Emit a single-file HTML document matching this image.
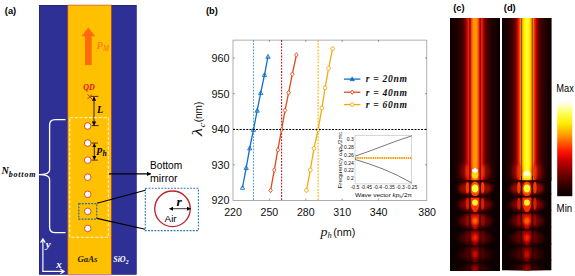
<!DOCTYPE html><html><head><meta charset="utf-8"><title>fig</title>
<style>html,body{margin:0;padding:0;background:#fff;}svg{display:block;}text{font-family:"Liberation Sans",sans-serif;}.se{font-family:"Liberation Serif",serif;}</style></head><body>
<svg width="575" height="276" viewBox="0 0 575 276">
<defs>
<marker id="ah" viewBox="0 0 10 10" refX="9" refY="5" markerWidth="5" markerHeight="5" orient="auto-start-reverse"><path d="M0,0 L10,5 L0,10 z" fill="#000"/></marker>
<marker id="ah2" viewBox="0 0 10 10" refX="9" refY="5" markerWidth="3.6" markerHeight="3.6" orient="auto-start-reverse"><path d="M0,0 L10,5 L0,10 z" fill="#000"/></marker>
<marker id="ahw" viewBox="0 0 10 10" refX="9" refY="5" markerWidth="5" markerHeight="5" orient="auto-start-reverse"><path d="M0,0 L10,5 L0,10 z" fill="#fff"/></marker>
<linearGradient id="gc" x1="0" x2="1" y1="0" y2="0">
<stop offset="0.0000" stop-color="#0c0000"/>
<stop offset="0.1200" stop-color="#1a0000"/>
<stop offset="0.2000" stop-color="#2c0000"/>
<stop offset="0.2600" stop-color="#480000"/>
<stop offset="0.3000" stop-color="#700000"/>
<stop offset="0.3300" stop-color="#a80800"/>
<stop offset="0.3500" stop-color="#d81000"/>
<stop offset="0.3680" stop-color="#f81808"/>
<stop offset="0.3880" stop-color="#f01808"/>
<stop offset="0.4120" stop-color="#f02810"/>
<stop offset="0.4360" stop-color="#ff4810"/>
<stop offset="0.4520" stop-color="#ff7008"/>
<stop offset="0.4680" stop-color="#ff9000"/>
<stop offset="0.5000" stop-color="#ff9c00"/>
<stop offset="0.5320" stop-color="#ff9000"/>
<stop offset="0.5480" stop-color="#ff7008"/>
<stop offset="0.5640" stop-color="#ff4810"/>
<stop offset="0.5880" stop-color="#f02810"/>
<stop offset="0.6120" stop-color="#f01808"/>
<stop offset="0.6320" stop-color="#f81808"/>
<stop offset="0.6500" stop-color="#d81000"/>
<stop offset="0.6700" stop-color="#a80800"/>
<stop offset="0.7000" stop-color="#700000"/>
<stop offset="0.7400" stop-color="#480000"/>
<stop offset="0.8000" stop-color="#2c0000"/>
<stop offset="0.8800" stop-color="#1a0000"/>
<stop offset="1.0000" stop-color="#0c0000"/>
</linearGradient>
<linearGradient id="gd" x1="0" x2="1" y1="0" y2="0">
<stop offset="-0.0040" stop-color="#0c0000"/>
<stop offset="0.0968" stop-color="#1c0000"/>
<stop offset="0.1774" stop-color="#300000"/>
<stop offset="0.2379" stop-color="#500000"/>
<stop offset="0.2782" stop-color="#780000"/>
<stop offset="0.3085" stop-color="#b00800"/>
<stop offset="0.3286" stop-color="#e01800"/>
<stop offset="0.3468" stop-color="#f83000"/>
<stop offset="0.3629" stop-color="#ff6000"/>
<stop offset="0.3770" stop-color="#ff9000"/>
<stop offset="0.4012" stop-color="#f09000"/>
<stop offset="0.4194" stop-color="#ffb800"/>
<stop offset="0.4355" stop-color="#ffe000"/>
<stop offset="0.4516" stop-color="#fff800"/>
<stop offset="0.5000" stop-color="#ffff38"/>
<stop offset="0.5484" stop-color="#fff800"/>
<stop offset="0.5645" stop-color="#ffe000"/>
<stop offset="0.5806" stop-color="#ffb800"/>
<stop offset="0.5988" stop-color="#f09000"/>
<stop offset="0.6230" stop-color="#ff9000"/>
<stop offset="0.6371" stop-color="#ff6000"/>
<stop offset="0.6532" stop-color="#f83000"/>
<stop offset="0.6714" stop-color="#e01800"/>
<stop offset="0.6915" stop-color="#b00800"/>
<stop offset="0.7218" stop-color="#780000"/>
<stop offset="0.7621" stop-color="#500000"/>
<stop offset="0.8226" stop-color="#300000"/>
<stop offset="0.9032" stop-color="#1c0000"/>
<stop offset="1.0040" stop-color="#0c0000"/>
</linearGradient>
<linearGradient id="fade" x1="0" x2="0" y1="0" y2="1">
<stop offset="0" stop-color="#0a0000" stop-opacity="0"/>
<stop offset="0.18" stop-color="#0a0000" stop-opacity="0.75"/>
<stop offset="1" stop-color="#0a0000" stop-opacity="0.97"/>
</linearGradient>
<linearGradient id="cbar" x1="0" x2="0" y1="0" y2="1">
<stop offset="0" stop-color="#ffffff"/>
<stop offset="0.06" stop-color="#ffffc8"/>
<stop offset="0.13" stop-color="#ffff60"/>
<stop offset="0.24" stop-color="#ffee00"/>
<stop offset="0.38" stop-color="#ff9000"/>
<stop offset="0.53" stop-color="#ff1800"/>
<stop offset="0.62" stop-color="#d00000"/>
<stop offset="0.74" stop-color="#800000"/>
<stop offset="0.86" stop-color="#400000"/>
<stop offset="0.95" stop-color="#180000"/>
<stop offset="1" stop-color="#100000"/>
</linearGradient>
<filter id="b1" x="-50%" y="-50%" width="200%" height="200%"><feGaussianBlur stdDeviation="1"/></filter>
<filter id="b15" x="-50%" y="-50%" width="200%" height="200%"><feGaussianBlur stdDeviation="1.5"/></filter>
<filter id="b05" x="-50%" y="-50%" width="200%" height="200%"><feGaussianBlur stdDeviation="0.6"/></filter>
<filter id="b07" x="-50%" y="-50%" width="200%" height="200%"><feGaussianBlur stdDeviation="0.75"/></filter>
<filter id="b04" x="-50%" y="-50%" width="200%" height="200%"><feGaussianBlur stdDeviation="0.4"/></filter>
<filter id="b2" x="-50%" y="-50%" width="200%" height="200%"><feGaussianBlur stdDeviation="2.2"/></filter>
<clipPath id="clc"><rect x="450" y="18" width="50" height="253"/></clipPath>
<clipPath id="cld"><rect x="502" y="18" width="49.6" height="252.6"/></clipPath>
</defs>
<rect x="0" y="0" width="575" height="276" fill="#fff"/>
<g id="pa">
<text x="4.8" y="14.4" font-size="9.3" font-weight="bold" fill="#000">(a)</text>
<rect x="39" y="5" width="97.5" height="269.5" fill="#2f3095"/>
<rect x="39.25" y="5.25" width="97" height="269" fill="none" stroke="#1c1c5a" stroke-width="0.5"/>
<rect x="67.8" y="5" width="43.5" height="269.5" fill="#ffc000"/>
<rect x="67.9" y="5.1" width="43.4" height="269.2" fill="none" stroke="#c8401a" stroke-width="0.55"/>
<rect x="67.8" y="274.6" width="43.7" height="1.4" fill="#ecc6ee"/>
<rect x="67.8" y="4.1" width="43.7" height="0.8" fill="#ecc6ee" opacity="0.7"/>
<path d="M88.2,27.5 L95.2,36.2 L91.7,36.2 L91.7,65 L85,65 L85,36.2 L81.5,36.2 Z" fill="#ff6a0f"/>
<text x="96.8" y="49.2" font-size="10" font-style="italic" fill="#ff6a0f" class="se">P<tspan font-size="7.2" dy="2">M</tspan></text>
<text x="83.2" y="90.4" font-size="8" font-style="italic" font-weight="bold" fill="#e01010" class="se">QD</text>
<path d="M87.6,94.4 L92,99 M92,94.4 L87.6,99" stroke="#e01010" stroke-width="0.9" fill="none"/>
<line x1="90.8" y1="96.4" x2="98.4" y2="96.4" stroke="#000" stroke-width="0.7"/>
<line x1="92" y1="125.6" x2="98.6" y2="125.6" stroke="#000" stroke-width="0.8"/>
<line x1="94.0" y1="97" x2="94.0" y2="125.2" stroke="#000" stroke-width="0.85" marker-start="url(#ah)" marker-end="url(#ah)"/>
<text x="97" y="113.4" font-size="10" font-style="italic" font-weight="bold" fill="#000" class="se">L</text>
<rect x="69.8" y="117.7" width="38.5" height="119.6" fill="none" stroke="#fff" stroke-width="0.9" stroke-dasharray="3.2,1.6"/>
<circle cx="87.7" cy="126.00" r="3.3" fill="#fff" stroke="#d02818" stroke-width="0.8"/>
<circle cx="87.7" cy="143.07" r="3.3" fill="#fff" stroke="#d02818" stroke-width="0.8"/>
<circle cx="87.7" cy="160.14" r="3.3" fill="#fff" stroke="#d02818" stroke-width="0.8"/>
<circle cx="87.7" cy="177.21" r="3.3" fill="#fff" stroke="#d02818" stroke-width="0.8"/>
<circle cx="87.7" cy="194.28" r="3.3" fill="#fff" stroke="#d02818" stroke-width="0.8"/>
<circle cx="87.7" cy="211.35" r="3.3" fill="#fff" stroke="#d02818" stroke-width="0.8"/>
<circle cx="87.7" cy="228.42" r="3.3" fill="#fff" stroke="#d02818" stroke-width="0.8"/>
<line x1="91.5" y1="143.07" x2="98" y2="143.07" stroke="#000" stroke-width="0.7"/>
<line x1="91.5" y1="160.14" x2="98" y2="160.14" stroke="#000" stroke-width="0.7"/>
<line x1="94.3" y1="143.6" x2="94.3" y2="159.6" stroke="#000" stroke-width="0.85" marker-start="url(#ah)" marker-end="url(#ah)"/>
<text x="97.0" y="153.2" font-size="11" font-style="italic" font-weight="bold" fill="#000" class="se">p<tspan font-size="7.5" dy="2.4">h</tspan></text>
<path d="M65.5,119.6 L55,119.6 Q49.6,119.6 49.6,125 L49.6,170 Q49.6,174.6 38.6,174.6 Q49.6,174.6 49.6,179.2 L49.6,227.2 Q49.6,232.6 55,232.6 L65.5,232.6" fill="none" stroke="#fff" stroke-width="1.3"/>
<text x="1.4" y="173.9" font-size="10.2" font-style="italic" font-weight="bold" fill="#000" class="se">N<tspan font-size="8" dy="2.7" letter-spacing="0.8">bottom</tspan></text>
<rect x="78.8" y="203.7" width="17.9" height="15.4" fill="none" stroke="#2a6a9c" stroke-width="1.2" stroke-dasharray="1.9,1.2"/>
<line x1="96.9" y1="203.3" x2="145.4" y2="190.3" stroke="#000" stroke-width="1.1"/>
<line x1="96.9" y1="218.4" x2="145.2" y2="229.2" stroke="#000" stroke-width="1.1"/>
<line x1="109" y1="173.8" x2="150.8" y2="173.8" stroke="#000" stroke-width="1.3" marker-end="url(#ah2)"/>
<text x="150" y="169" font-size="10.3" fill="#000" textLength="32.2" lengthAdjust="spacingAndGlyphs">Bottom</text>
<text x="150" y="181.7" font-size="10.3" fill="#000" textLength="27.6" lengthAdjust="spacingAndGlyphs">mirror</text>
<rect x="145.3" y="188.2" width="53.1" height="42.4" fill="none" stroke="#2e75b6" stroke-width="1.1" stroke-dasharray="1.9,1.3"/>
<circle cx="172.5" cy="208.8" r="17.8" fill="#fff" stroke="#c0202a" stroke-width="1.3"/>
<line x1="169.5" y1="208.7" x2="190.5" y2="208.7" stroke="#000" stroke-width="0.8" marker-start="url(#ah)" marker-end="url(#ah)"/>
<text x="176.4" y="206.0" font-size="13.5" font-style="italic" font-weight="bold" fill="#000" class="se">r</text>
<text x="164.6" y="222.4" font-size="9.9" fill="#000">Air</text>
<path d="M42.9,271.4 L42.9,239.2 M40.6,242.6 L42.9,238.9 L45.2,242.6" fill="none" stroke="#fff" stroke-width="1.15"/>
<path d="M42.3,271.4 L63.8,271.4 M60.4,269.1 L64.1,271.4 L60.4,273.7" fill="none" stroke="#fff" stroke-width="1.15"/>
<text x="45.8" y="247.6" font-size="11" font-style="italic" font-weight="bold" fill="#fff" class="se">y</text>
<text x="56.2" y="267.8" font-size="11" font-style="italic" font-weight="bold" fill="#fff" class="se">x</text>
<text x="77.4" y="262" font-size="8.8" font-style="italic" font-weight="bold" fill="#2a1a00" class="se">GaAs</text>
<text x="113.2" y="262.2" font-size="8" font-style="italic" font-weight="bold" fill="#fff" class="se">SiO<tspan font-size="5.5" dy="1.8">2</tspan></text>
</g>
<g id="pb">
<text x="206" y="14.1" font-size="9.3" font-weight="bold" fill="#000">(b)</text>
<rect x="233.0" y="40.1" width="193.8" height="160.3" fill="#fff" stroke="#8c8c8c" stroke-width="0.7"/>
<text x="233.00" y="216.3" font-size="10.6" text-anchor="middle" fill="#111">220</text>
<line x1="269.40" y1="200.4" x2="269.40" y2="198.6" stroke="#555" stroke-width="0.6"/>
<line x1="269.40" y1="40.1" x2="269.40" y2="41.9" stroke="#555" stroke-width="0.6"/>
<text x="269.40" y="216.3" font-size="10.6" text-anchor="middle" fill="#111">250</text>
<line x1="305.80" y1="200.4" x2="305.80" y2="198.6" stroke="#555" stroke-width="0.6"/>
<line x1="305.80" y1="40.1" x2="305.80" y2="41.9" stroke="#555" stroke-width="0.6"/>
<text x="305.80" y="216.3" font-size="10.6" text-anchor="middle" fill="#111">280</text>
<line x1="342.20" y1="200.4" x2="342.20" y2="198.6" stroke="#555" stroke-width="0.6"/>
<line x1="342.20" y1="40.1" x2="342.20" y2="41.9" stroke="#555" stroke-width="0.6"/>
<text x="342.20" y="216.3" font-size="10.6" text-anchor="middle" fill="#111">310</text>
<line x1="378.60" y1="200.4" x2="378.60" y2="198.6" stroke="#555" stroke-width="0.6"/>
<line x1="378.60" y1="40.1" x2="378.60" y2="41.9" stroke="#555" stroke-width="0.6"/>
<text x="378.60" y="216.3" font-size="10.6" text-anchor="middle" fill="#111">340</text>
<text x="427.13" y="216.3" font-size="10.6" text-anchor="middle" fill="#111">380</text>
<text x="229.6" y="204.40" font-size="10.8" text-anchor="end" fill="#111">920</text>
<line x1="233.0" y1="164.80" x2="234.8" y2="164.80" stroke="#555" stroke-width="0.6"/>
<line x1="426.8" y1="164.80" x2="425.0" y2="164.80" stroke="#555" stroke-width="0.6"/>
<text x="229.6" y="168.80" font-size="10.8" text-anchor="end" fill="#111">930</text>
<line x1="233.0" y1="129.20" x2="234.8" y2="129.20" stroke="#555" stroke-width="0.6"/>
<line x1="426.8" y1="129.20" x2="425.0" y2="129.20" stroke="#555" stroke-width="0.6"/>
<text x="229.6" y="133.20" font-size="10.8" text-anchor="end" fill="#111">940</text>
<line x1="233.0" y1="93.60" x2="234.8" y2="93.60" stroke="#555" stroke-width="0.6"/>
<line x1="426.8" y1="93.60" x2="425.0" y2="93.60" stroke="#555" stroke-width="0.6"/>
<text x="229.6" y="97.60" font-size="10.8" text-anchor="end" fill="#111">950</text>
<line x1="233.0" y1="58.00" x2="234.8" y2="58.00" stroke="#555" stroke-width="0.6"/>
<line x1="426.8" y1="58.00" x2="425.0" y2="58.00" stroke="#555" stroke-width="0.6"/>
<text x="229.6" y="62.00" font-size="10.8" text-anchor="end" fill="#111">960</text>
<line x1="253.5" y1="40.1" x2="253.5" y2="200.4" stroke="#3a8fe0" stroke-width="0.9" stroke-dasharray="1.8,1.3"/>
<line x1="281.6" y1="40.1" x2="281.6" y2="200.4" stroke="#c8141e" stroke-width="1.1" stroke-dasharray="1.8,1.3"/>
<line x1="318.1" y1="40.1" x2="318.1" y2="200.4" stroke="#f5b400" stroke-width="1.1" stroke-dasharray="1.8,1.3"/>
<polyline points="242.5,187.5 246.2,167.8 249.7,148.1 253.5,129.6 257.2,110.4 260.7,92.8 264.5,74.8 268,56.5" fill="none" stroke="#0f6fc6" stroke-width="1.3"/>
<path d="M242.5,185.4 L244.6,189.285 L240.4,189.285 Z" fill="none" stroke="#0f6fc6" stroke-width="0.9"/>
<path d="M246.2,165.70000000000002 L248.29999999999998,169.585 L244.1,169.585 Z" fill="none" stroke="#0f6fc6" stroke-width="0.9"/>
<path d="M249.7,146.0 L251.79999999999998,149.885 L247.6,149.885 Z" fill="none" stroke="#0f6fc6" stroke-width="0.9"/>
<path d="M253.5,127.5 L255.6,131.385 L251.4,131.385 Z" fill="none" stroke="#0f6fc6" stroke-width="0.9"/>
<path d="M257.2,108.30000000000001 L259.3,112.185 L255.1,112.185 Z" fill="none" stroke="#0f6fc6" stroke-width="0.9"/>
<path d="M260.7,90.7 L262.8,94.585 L258.59999999999997,94.585 Z" fill="none" stroke="#0f6fc6" stroke-width="0.9"/>
<path d="M264.5,72.7 L266.6,76.585 L262.4,76.585 Z" fill="none" stroke="#0f6fc6" stroke-width="0.9"/>
<path d="M268,54.4 L270.1,58.285 L265.9,58.285 Z" fill="none" stroke="#0f6fc6" stroke-width="0.9"/>
<polyline points="270.6,190.4 274.3,170.1 277.8,149.9 281.6,129.6 285,110.4 288.6,92.8 292.3,74.2 296.4,55" fill="none" stroke="#de4a16" stroke-width="1.3"/>
<path d="M270.6,188.06 L272.355,190.4 L270.6,192.74 L268.845,190.4 Z" fill="#fff" stroke="#de4a16" stroke-width="0.9"/>
<path d="M274.3,167.76 L276.055,170.1 L274.3,172.44 L272.545,170.1 Z" fill="#fff" stroke="#de4a16" stroke-width="0.9"/>
<path d="M277.8,147.56 L279.555,149.9 L277.8,152.24 L276.045,149.9 Z" fill="#fff" stroke="#de4a16" stroke-width="0.9"/>
<path d="M281.6,127.25999999999999 L283.355,129.6 L281.6,131.94 L279.845,129.6 Z" fill="#fff" stroke="#de4a16" stroke-width="0.9"/>
<path d="M285,108.06 L286.755,110.4 L285,112.74000000000001 L283.245,110.4 Z" fill="#fff" stroke="#de4a16" stroke-width="0.9"/>
<path d="M288.6,90.46 L290.355,92.8 L288.6,95.14 L286.845,92.8 Z" fill="#fff" stroke="#de4a16" stroke-width="0.9"/>
<path d="M292.3,71.86 L294.055,74.2 L292.3,76.54 L290.545,74.2 Z" fill="#fff" stroke="#de4a16" stroke-width="0.9"/>
<path d="M296.4,52.66 L298.155,55 L296.4,57.34 L294.645,55 Z" fill="#fff" stroke="#de4a16" stroke-width="0.9"/>
<polyline points="306.5,190.4 310.3,169.9 314,148.4 318.1,129.6 321.9,108.1 325.1,87.8 328.6,68.4 332.6,48.7" fill="none" stroke="#f0ac10" stroke-width="1.3"/>
<circle cx="306.5" cy="190.4" r="1.9" fill="#fff" stroke="#f0ac10" stroke-width="0.9"/>
<circle cx="310.3" cy="169.9" r="1.9" fill="#fff" stroke="#f0ac10" stroke-width="0.9"/>
<circle cx="314" cy="148.4" r="1.9" fill="#fff" stroke="#f0ac10" stroke-width="0.9"/>
<circle cx="318.1" cy="129.6" r="1.9" fill="#fff" stroke="#f0ac10" stroke-width="0.9"/>
<circle cx="321.9" cy="108.1" r="1.9" fill="#fff" stroke="#f0ac10" stroke-width="0.9"/>
<circle cx="325.1" cy="87.8" r="1.9" fill="#fff" stroke="#f0ac10" stroke-width="0.9"/>
<circle cx="328.6" cy="68.4" r="1.9" fill="#fff" stroke="#f0ac10" stroke-width="0.9"/>
<circle cx="332.6" cy="48.7" r="1.9" fill="#fff" stroke="#f0ac10" stroke-width="0.9"/>
<line x1="233.0" y1="129.5" x2="426.8" y2="129.5" stroke="#000" stroke-width="1.2" stroke-dasharray="2,1.3"/>
<line x1="344" y1="79.1" x2="360.4" y2="79.1" stroke="#0f6fc6" stroke-width="1.3"/>
<path d="M352.2,76.89999999999999 L354.4,80.69999999999999 L350,80.69999999999999 Z" fill="#0f6fc6" stroke="#0f6fc6" stroke-width="0.7"/>
<text x="365.8" y="82.39999999999999" font-size="9.6" font-style="italic" font-weight="bold" fill="#111" class="se" textLength="41.2" lengthAdjust="spacing">r = 20nm</text>
<line x1="344" y1="92.2" x2="360.4" y2="92.2" stroke="#de4a16" stroke-width="1.3"/>
<path d="M352.2,90.04 L353.82,92.2 L352.2,94.36 L350.58,92.2 Z" fill="#fff" stroke="#de4a16" stroke-width="0.9"/>
<text x="365.8" y="95.5" font-size="9.6" font-style="italic" font-weight="bold" fill="#111" class="se" textLength="41.2" lengthAdjust="spacing">r = 40nm</text>
<line x1="344" y1="104.6" x2="360.4" y2="104.6" stroke="#f0ac10" stroke-width="1.3"/>
<circle cx="352.2" cy="104.6" r="1.8" fill="#fff" stroke="#f0ac10" stroke-width="0.9"/>
<text x="365.8" y="107.89999999999999" font-size="9.6" font-style="italic" font-weight="bold" fill="#111" class="se" textLength="41.2" lengthAdjust="spacing">r = 60nm</text>
<g fill="#111"><text x="320.6" y="235.5" class="se" font-style="italic" font-size="13" textLength="7.0" lengthAdjust="spacingAndGlyphs">p</text><text x="327.5" y="237.6" class="se" font-style="italic" font-size="8.5">h</text><text x="333.2" y="236.0" font-size="10.6" textLength="22.2" lengthAdjust="spacingAndGlyphs">(nm)</text></g>
<g transform="translate(202.3,135.9) rotate(-90)" fill="#111"><text x="0" y="0" class="se" font-style="italic" font-size="14.5" textLength="8" lengthAdjust="spacingAndGlyphs">λ</text><text x="8.3" y="2.2" class="se" font-style="italic" font-size="9" textLength="4.8" lengthAdjust="spacingAndGlyphs">c</text><text x="13.6" y="0" font-size="10">(nm)</text></g>
<rect x="355.0" y="135.4" width="56.69999999999999" height="48.5" fill="#fff" stroke="#bdbdbd" stroke-width="0.6"/>
<path d="M355.0,156.2 Q369.0,151.5 383.0,146 T411.7,135.9" fill="none" stroke="#555" stroke-width="0.8"/>
<path d="M355.0,159.4 Q369.0,163.5 383.0,169 T411.7,182.9" fill="none" stroke="#555" stroke-width="0.8"/>
<line x1="355.0" y1="157.9" x2="411.7" y2="157.9" stroke="#f5a010" stroke-width="2" stroke-dasharray="1.5,0.7"/>
<text x="353.8" y="141.00" font-size="5" text-anchor="end" fill="#111">0.3</text>
<text x="353.8" y="148.86" font-size="5" text-anchor="end" fill="#111">0.28</text>
<text x="353.8" y="156.72" font-size="5" text-anchor="end" fill="#111">0.26</text>
<text x="353.8" y="164.58" font-size="5" text-anchor="end" fill="#111">0.24</text>
<text x="353.8" y="172.44" font-size="5" text-anchor="end" fill="#111">0.22</text>
<text x="353.8" y="180.30" font-size="5" text-anchor="end" fill="#111">0.2</text>
<text x="355.00" y="189.4" font-size="5" text-anchor="middle" fill="#111">-0.5</text>
<text x="366.34" y="189.4" font-size="5" text-anchor="middle" fill="#111">-0.45</text>
<text x="377.68" y="189.4" font-size="5" text-anchor="middle" fill="#111">-0.4</text>
<text x="389.02" y="189.4" font-size="5" text-anchor="middle" fill="#111">-0.35</text>
<text x="400.36" y="189.4" font-size="5" text-anchor="middle" fill="#111">-0.3</text>
<text x="411.70" y="189.4" font-size="5" text-anchor="middle" fill="#111">-0.25</text>
<text x="355" y="197.4" font-size="5.6" fill="#111" textLength="57" lengthAdjust="spacingAndGlyphs">Wave vector <tspan font-style="italic">kp</tspan><tspan font-size="4" dy="0.8">h</tspan><tspan dy="-0.8">/2π</tspan></text>
<text transform="translate(342.2,188.6) rotate(-90)" font-size="5.6" fill="#111" textLength="57" lengthAdjust="spacingAndGlyphs">Frequency <tspan font-style="italic">ωp</tspan><tspan font-size="4" dy="0.8">h</tspan><tspan dy="-0.8">/2πc</tspan></text>
</g>
<g id="pc">
<text x="453.2" y="11.0" font-size="9.3" font-weight="bold" fill="#000">(c)</text>
<g clip-path="url(#clc)">
<rect x="450" y="18" width="50" height="253" fill="#0c0000"/>
<rect x="450" y="18" width="50" height="163" fill="url(#gc)"/>
<ellipse cx="464.55" cy="171" rx="5" ry="8" fill="#b00800" opacity="0.5" filter="url(#b2)"/>
<ellipse cx="485.55" cy="171" rx="5" ry="8" fill="#b00800" opacity="0.5" filter="url(#b2)"/>
<ellipse cx="467.45" cy="171.5" rx="1.7" ry="7" fill="#ff3800" opacity="0.9" filter="url(#b1)"/>
<ellipse cx="482.65000000000003" cy="171.5" rx="1.7" ry="7" fill="#ff3800" opacity="0.9" filter="url(#b1)"/>
<ellipse cx="475.05" cy="174.6" rx="3.3" ry="4.2" fill="#ffd810" filter="url(#b07)"/>
<ellipse cx="475.05" cy="188.4" rx="17" ry="7.268000000000005" fill="#c00800" opacity="0.8" filter="url(#b2)"/>
<ellipse cx="467.45" cy="187.70000000000002" rx="1.8" ry="5.8460000000000045" fill="#f03c00" opacity="1.0" filter="url(#b07)"/>
<ellipse cx="482.65000000000003" cy="187.70000000000002" rx="1.8" ry="5.8460000000000045" fill="#f03c00" opacity="1.0" filter="url(#b07)"/>
<ellipse cx="475.05" cy="188.9" rx="4.5" ry="7.426000000000005" fill="#ff5000" filter="url(#b07)"/>
<ellipse cx="475.05" cy="188.5" rx="3.2" ry="3.9" fill="#ffff38" filter="url(#b07)"/>
<ellipse cx="475.05" cy="204.45" rx="17" ry="7.497999999999992" fill="#a80000" opacity="0.75" filter="url(#b2)"/>
<ellipse cx="467.45" cy="203.75" rx="1.8" ry="6.0309999999999935" fill="#dc2000" opacity="0.9" filter="url(#b07)"/>
<ellipse cx="482.65000000000003" cy="203.75" rx="1.8" ry="6.0309999999999935" fill="#dc2000" opacity="0.9" filter="url(#b07)"/>
<path d="M470.55,197.8 L479.55,197.8 L479.55,205.0 Q478.65000000000003,208.3 476.35,212.5 L473.75,212.5 Q471.45,208.3 470.55,205.0 Z" fill="#f83000" filter="url(#b07)"/>
<ellipse cx="475.05" cy="202.6" rx="2.9" ry="3.2" fill="#fff028" filter="url(#b07)"/>
<ellipse cx="475.05" cy="221.05" rx="17" ry="7.774000000000003" fill="#880000" opacity="0.7" filter="url(#b2)"/>
<ellipse cx="467.45" cy="220.35000000000002" rx="1.8" ry="6.253000000000002" fill="#b80800" opacity="0.75" filter="url(#b1)"/>
<ellipse cx="482.65000000000003" cy="220.35000000000002" rx="1.8" ry="6.253000000000002" fill="#b80800" opacity="0.75" filter="url(#b1)"/>
<path d="M470.55,214.1 L479.55,214.1 L479.55,221.29999999999998 Q478.65000000000003,224.6 476.35,229.4 L473.75,229.4 Q471.45,224.6 470.55,221.29999999999998 Z" fill="#d80c00" filter="url(#b1)"/>
<ellipse cx="475.05" cy="220.8" rx="2.8" ry="3.4" fill="#ff6800" filter="url(#b1)"/>
<ellipse cx="475.05" cy="237.8" rx="17" ry="7.6359999999999975" fill="#680000" opacity="0.65" filter="url(#b2)"/>
<ellipse cx="467.45" cy="237.10000000000002" rx="1.8" ry="6.141999999999998" fill="#880000" opacity="0.65" filter="url(#b1)"/>
<ellipse cx="482.65000000000003" cy="237.10000000000002" rx="1.8" ry="6.141999999999998" fill="#880000" opacity="0.65" filter="url(#b1)"/>
<path d="M470.55,231.0 L479.55,231.0 L479.55,238.2 Q478.65000000000003,241.5 476.35,246.0 L473.75,246.0 Q471.45,241.5 470.55,238.2 Z" fill="#a80400" filter="url(#b1)"/>
<ellipse cx="475.05" cy="237.7" rx="2.7" ry="3.4" fill="#f82000" filter="url(#b1)"/>
<ellipse cx="475.05" cy="254.35000000000002" rx="17" ry="7.590000000000013" fill="#500000" opacity="0.6" filter="url(#b2)"/>
<ellipse cx="467.45" cy="253.65000000000003" rx="1.8" ry="6.10500000000001" fill="#680000" opacity="0.6" filter="url(#b1)"/>
<ellipse cx="482.65000000000003" cy="253.65000000000003" rx="1.8" ry="6.10500000000001" fill="#680000" opacity="0.6" filter="url(#b1)"/>
<path d="M470.55,247.6 L479.55,247.6 L479.55,254.79999999999998 Q478.65000000000003,258.1 476.35,262.5 L473.75,262.5 Q471.45,258.1 470.55,254.79999999999998 Z" fill="#800000" filter="url(#b1)"/>
<ellipse cx="475.05" cy="254.2" rx="2.6" ry="3.4" fill="#c80800" filter="url(#b1)"/>
<ellipse cx="475.05" cy="271.05" rx="17" ry="7.77399999999999" fill="#400000" opacity="0.55" filter="url(#b2)"/>
<ellipse cx="467.45" cy="270.35" rx="1.8" ry="6.252999999999991" fill="#500000" opacity="0.55" filter="url(#b1)"/>
<ellipse cx="482.65000000000003" cy="270.35" rx="1.8" ry="6.252999999999991" fill="#500000" opacity="0.55" filter="url(#b1)"/>
<path d="M470.55,264.1 L479.55,264.1 L479.55,271.3 Q478.65000000000003,274.6 476.35,279.4 L473.75,279.4 Q471.45,274.6 470.55,271.3 Z" fill="#600000" filter="url(#b1)"/>
<ellipse cx="475.05" cy="269.6" rx="2.6" ry="3.4" fill="#a00000" filter="url(#b1)"/>
<path d="M450,178 Q475.05,183.4 500,178" fill="none" stroke="#100000" stroke-width="1.1" opacity="0.8" filter="url(#b04)"/>
<path d="M450,193.8 Q475.05,199.20000000000002 500,193.8" fill="none" stroke="#100000" stroke-width="1.1" opacity="0.8" filter="url(#b04)"/>
<path d="M450,210.1 Q475.05,215.5 500,210.1" fill="none" stroke="#100000" stroke-width="1.1" opacity="0.8" filter="url(#b04)"/>
<path d="M450,227.0 Q475.05,232.4 500,227.0" fill="none" stroke="#100000" stroke-width="1.1" opacity="0.8" filter="url(#b04)"/>
<path d="M450,243.6 Q475.05,249.0 500,243.6" fill="none" stroke="#100000" stroke-width="1.1" opacity="0.8" filter="url(#b04)"/>
<path d="M450,260.1 Q475.05,265.5 500,260.1" fill="none" stroke="#100000" stroke-width="1.1" opacity="0.8" filter="url(#b04)"/>
<line x1="469.95" y1="18" x2="469.95" y2="176" stroke="#3a0600" stroke-width="1" opacity="0.85"/>
<line x1="480.15000000000003" y1="18" x2="480.15000000000003" y2="176" stroke="#3a0600" stroke-width="1" opacity="0.85"/>
<line x1="469.95" y1="176" x2="469.95" y2="271" stroke="#200000" stroke-width="1" opacity="0.9"/>
<line x1="480.15000000000003" y1="176" x2="480.15000000000003" y2="271" stroke="#200000" stroke-width="1" opacity="0.9"/>
<path d="M473.15000000000003,170.6 h3.8 M475.05,169.2 v2.4" stroke="#fff" stroke-width="2.5" stroke-linecap="round" filter="url(#b04)"/>
<path d="M475.05,166.2 v3" stroke="#fff" stroke-width="1.3" stroke-linecap="round" filter="url(#b04)"/>
</g>
</g>
<g id="pd">
<text x="503.8" y="11.0" font-size="9.3" font-weight="bold" fill="#000">(d)</text>
<g clip-path="url(#cld)">
<rect x="502" y="18" width="49.6" height="252.6" fill="#0c0000"/>
<rect x="502" y="18" width="49.6" height="163" fill="url(#gd)"/>
<ellipse cx="516.4" cy="171" rx="5" ry="8" fill="#b00800" opacity="0.5" filter="url(#b2)"/>
<ellipse cx="537.4" cy="171" rx="5" ry="8" fill="#b00800" opacity="0.5" filter="url(#b2)"/>
<ellipse cx="518.9" cy="171.5" rx="1.7" ry="7" fill="#ff3800" opacity="0.9" filter="url(#b1)"/>
<ellipse cx="534.9" cy="171.5" rx="1.7" ry="7" fill="#ff3800" opacity="0.9" filter="url(#b1)"/>
<ellipse cx="526.9" cy="175.2" rx="3.9" ry="4.2" fill="#fff838" filter="url(#b07)"/>
<ellipse cx="526.9" cy="188.4" rx="17" ry="7.268000000000005" fill="#c00800" opacity="0.8" filter="url(#b2)"/>
<ellipse cx="518.9" cy="187.70000000000002" rx="1.8" ry="5.8460000000000045" fill="#f03c00" opacity="1.0" filter="url(#b07)"/>
<ellipse cx="534.9" cy="187.70000000000002" rx="1.8" ry="5.8460000000000045" fill="#f03c00" opacity="1.0" filter="url(#b07)"/>
<ellipse cx="526.9" cy="188.9" rx="4.5" ry="7.426000000000005" fill="#ff5000" filter="url(#b07)"/>
<ellipse cx="526.9" cy="188.5" rx="3.2" ry="3.9" fill="#ffff38" filter="url(#b07)"/>
<ellipse cx="526.9" cy="204.45" rx="17" ry="7.497999999999992" fill="#a80000" opacity="0.75" filter="url(#b2)"/>
<ellipse cx="518.9" cy="203.75" rx="1.8" ry="6.0309999999999935" fill="#dc2000" opacity="0.9" filter="url(#b07)"/>
<ellipse cx="534.9" cy="203.75" rx="1.8" ry="6.0309999999999935" fill="#dc2000" opacity="0.9" filter="url(#b07)"/>
<path d="M522.4,197.8 L531.4,197.8 L531.4,205.0 Q530.5,208.3 528.1999999999999,212.5 L525.6,212.5 Q523.3,208.3 522.4,205.0 Z" fill="#f83000" filter="url(#b07)"/>
<ellipse cx="526.9" cy="202.6" rx="2.9" ry="3.2" fill="#fff028" filter="url(#b07)"/>
<ellipse cx="526.9" cy="221.05" rx="17" ry="7.774000000000003" fill="#880000" opacity="0.7" filter="url(#b2)"/>
<ellipse cx="518.9" cy="220.35000000000002" rx="1.8" ry="6.253000000000002" fill="#b80800" opacity="0.75" filter="url(#b1)"/>
<ellipse cx="534.9" cy="220.35000000000002" rx="1.8" ry="6.253000000000002" fill="#b80800" opacity="0.75" filter="url(#b1)"/>
<path d="M522.4,214.1 L531.4,214.1 L531.4,221.29999999999998 Q530.5,224.6 528.1999999999999,229.4 L525.6,229.4 Q523.3,224.6 522.4,221.29999999999998 Z" fill="#d80c00" filter="url(#b1)"/>
<ellipse cx="526.9" cy="220.8" rx="2.8" ry="3.4" fill="#ff6800" filter="url(#b1)"/>
<ellipse cx="526.9" cy="237.8" rx="17" ry="7.6359999999999975" fill="#680000" opacity="0.65" filter="url(#b2)"/>
<ellipse cx="518.9" cy="237.10000000000002" rx="1.8" ry="6.141999999999998" fill="#880000" opacity="0.65" filter="url(#b1)"/>
<ellipse cx="534.9" cy="237.10000000000002" rx="1.8" ry="6.141999999999998" fill="#880000" opacity="0.65" filter="url(#b1)"/>
<path d="M522.4,231.0 L531.4,231.0 L531.4,238.2 Q530.5,241.5 528.1999999999999,246.0 L525.6,246.0 Q523.3,241.5 522.4,238.2 Z" fill="#a80400" filter="url(#b1)"/>
<ellipse cx="526.9" cy="237.7" rx="2.7" ry="3.4" fill="#f82000" filter="url(#b1)"/>
<ellipse cx="526.9" cy="254.35000000000002" rx="17" ry="7.590000000000013" fill="#500000" opacity="0.6" filter="url(#b2)"/>
<ellipse cx="518.9" cy="253.65000000000003" rx="1.8" ry="6.10500000000001" fill="#680000" opacity="0.6" filter="url(#b1)"/>
<ellipse cx="534.9" cy="253.65000000000003" rx="1.8" ry="6.10500000000001" fill="#680000" opacity="0.6" filter="url(#b1)"/>
<path d="M522.4,247.6 L531.4,247.6 L531.4,254.79999999999998 Q530.5,258.1 528.1999999999999,262.5 L525.6,262.5 Q523.3,258.1 522.4,254.79999999999998 Z" fill="#800000" filter="url(#b1)"/>
<ellipse cx="526.9" cy="254.2" rx="2.6" ry="3.4" fill="#c80800" filter="url(#b1)"/>
<ellipse cx="526.9" cy="271.05" rx="17" ry="7.77399999999999" fill="#400000" opacity="0.55" filter="url(#b2)"/>
<ellipse cx="518.9" cy="270.35" rx="1.8" ry="6.252999999999991" fill="#500000" opacity="0.55" filter="url(#b1)"/>
<ellipse cx="534.9" cy="270.35" rx="1.8" ry="6.252999999999991" fill="#500000" opacity="0.55" filter="url(#b1)"/>
<path d="M522.4,264.1 L531.4,264.1 L531.4,271.3 Q530.5,274.6 528.1999999999999,279.4 L525.6,279.4 Q523.3,274.6 522.4,271.3 Z" fill="#600000" filter="url(#b1)"/>
<ellipse cx="526.9" cy="269.6" rx="2.6" ry="3.4" fill="#a00000" filter="url(#b1)"/>
<path d="M502,178 Q526.9,183.4 551.6,178" fill="none" stroke="#100000" stroke-width="1.1" opacity="0.8" filter="url(#b04)"/>
<path d="M502,193.8 Q526.9,199.20000000000002 551.6,193.8" fill="none" stroke="#100000" stroke-width="1.1" opacity="0.8" filter="url(#b04)"/>
<path d="M502,210.1 Q526.9,215.5 551.6,210.1" fill="none" stroke="#100000" stroke-width="1.1" opacity="0.8" filter="url(#b04)"/>
<path d="M502,227.0 Q526.9,232.4 551.6,227.0" fill="none" stroke="#100000" stroke-width="1.1" opacity="0.8" filter="url(#b04)"/>
<path d="M502,243.6 Q526.9,249.0 551.6,243.6" fill="none" stroke="#100000" stroke-width="1.1" opacity="0.8" filter="url(#b04)"/>
<path d="M502,260.1 Q526.9,265.5 551.6,260.1" fill="none" stroke="#100000" stroke-width="1.1" opacity="0.8" filter="url(#b04)"/>
<line x1="521.4499999999999" y1="18" x2="521.4499999999999" y2="176" stroke="#7a4400" stroke-width="1" opacity="0.85"/>
<line x1="532.35" y1="18" x2="532.35" y2="176" stroke="#7a4400" stroke-width="1" opacity="0.85"/>
<line x1="521.4499999999999" y1="176" x2="521.4499999999999" y2="270.6" stroke="#200000" stroke-width="1" opacity="0.9"/>
<line x1="532.35" y1="176" x2="532.35" y2="270.6" stroke="#200000" stroke-width="1" opacity="0.9"/>
<ellipse cx="526.9" cy="173.4" rx="3.3" ry="2.2" fill="#fff" filter="url(#b07)"/>
</g>
</g>
<rect x="557.2" y="100" width="15.1" height="96.2" fill="url(#cbar)"/>
<text x="556.3" y="91.7" font-size="10" fill="#000" textLength="17.5" lengthAdjust="spacingAndGlyphs">Max</text>
<text x="556.6" y="212.2" font-size="10" fill="#000" textLength="15.6" lengthAdjust="spacingAndGlyphs">Min</text>
</svg></body></html>
